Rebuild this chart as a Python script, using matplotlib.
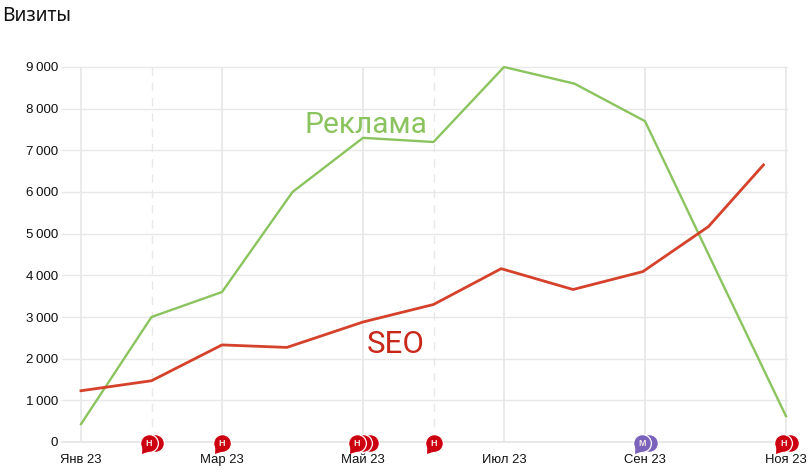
#!/usr/bin/env python3

import matplotlib
matplotlib.use("Agg")
import matplotlib.pyplot as plt

# ---- DATA ----
tick_months = [0, 2, 4, 6, 8, 10]
tick_labels = ["Янв 23", "Мар 23", "Май 23", "Июл 23", "Сен 23", "Ноя 23"]

ads_x = [0, 1, 2, 3, 4, 5, 6, 7, 8, 9, 10]
ads = [430, 3000, 3600, 6000, 7300, 7200, 9000, 8600, 7700, 4150, 620]

seo_x = [0, 1, 2, 2.92, 4, 5, 5.96, 6.98, 7.97, 8.9, 9.68]
seo = [1230, 1470, 2330, 2270, 2880, 3300, 4160, 3660, 4090, 5170, 6650]

solid_months = [0, 2, 4, 6, 8, 10]
dashed_months = [1, 5]

y_ticks = [0, 1000, 2000, 3000, 4000, 5000, 6000, 7000, 8000, 9000]
y_labels = ["0", "1\u2009000", "2\u2009000", "3\u2009000", "4\u2009000",
            "5\u2009000", "6\u2009000", "7\u2009000", "8\u2009000", "9\u2009000"]

# front bubble month, letter, number of bubbles behind, colour
notes_month = [0.96, 2, 3.91, 5, 7.96, 9.96]
notes_letter = ["Н", "Н", "Н", "Н", "М", "Н"]
notes_behind = [1, 0, 2, 0, 1, 1]
notes_color = ["#cc0011", "#cc0011", "#cc0011", "#cc0011", "#7b63bb", "#cc0011"]

GREEN = "#8bc45e"
RED = "#d5412b"
GRID = "#e8e8e8"

plt.rcParams["font.family"] = ["Liberation Sans", "DejaVu Sans"]

fig = plt.figure(figsize=(8.11, 4.76), dpi=100)
# axes span in pixels: x 62..787, y 67..442
ax = fig.add_axes([62 / 811, (476 - 442) / 476, (787 - 62) / 811, (442 - 67) / 476])

ax.set_xlim((62 - 81) / 70.5, (787 - 81) / 70.5)
ax.set_ylim(0, 9000)

for s in ax.spines.values():
    s.set_visible(False)

for v in y_ticks:
    ax.axhline(v, color=GRID, lw=1.4 if v == 0 else 1.0, zorder=1, clip_on=False)
for m in solid_months:
    ax.axvline(m, color=GRID, lw=1.3, zorder=1)
for m in dashed_months:
    ax.axvline(m, color=GRID, lw=1.0, ls=(0, (6, 5)), zorder=1)

ax.plot(ads_x, ads, color=GREEN, lw=1.7, zorder=3, clip_on=False)
ax.plot(seo_x, seo, color=RED, lw=2.0, zorder=4)

ax.set_xticks(tick_months)
ax.set_xticklabels(tick_labels, fontsize=9.4, color="#111111")
ax.set_yticks(y_ticks)
ax.set_yticklabels(y_labels, fontsize=9.6, color="#111111")
ax.tick_params(axis="both", length=0)
ax.tick_params(axis="x", pad=8.5)
ax.tick_params(axis="y", pad=3)

# series captions
ax.text(4.04, 7610, "Реклама", color=GREEN, fontsize=21.5, family="Roboto",
        ha="center", va="center", zorder=5)
ax.text(4.47, 2350, "SEO", color="#c8281a", fontsize=22.5, family="Roboto",
        ha="center", va="center", zorder=5)

# note bubbles on the zero line
step = 6.7 / 70.5
tail = [(-7.5, -10.5), (3, -7), (-7, 0), (-7.5, -10.5)]
for m, letter, behind, color in zip(notes_month, notes_letter, notes_behind, notes_color):
    for i in range(behind, 0, -1):
        ax.plot(m + i * step, -15, "o", ms=12.8, mfc=color, mec="white", mew=0.9,
                clip_on=False, zorder=6)
    ax.plot(m, -15, "o", ms=12.8, mfc=color, mec="white", mew=0.9, clip_on=False, zorder=7)
    ax.plot(m, -15, marker=tail, ms=15.1, mfc=color, mec="none",
            clip_on=False, zorder=7)
    ax.text(m, -15, letter, color="#f5e6e6", fontsize=6.5, fontweight="bold",
            ha="center", va="center_baseline", zorder=8)

fig.text(2 / 811, 1 - 16 / 476, "Визиты", fontsize=13.8, family="Noto Sans",
         color="#111111", ha="left", va="center")

fig.savefig("out.png", dpi=100)
